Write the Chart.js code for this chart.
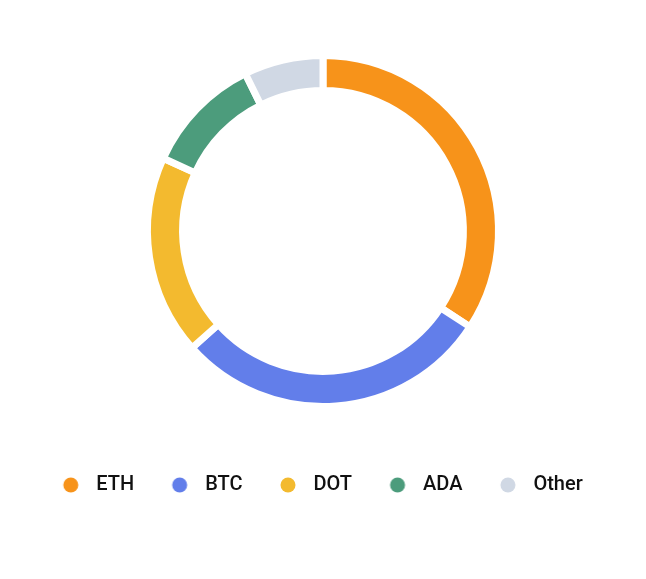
<!DOCTYPE html>
<html>
<head>
<meta charset="utf-8">
<script src="https://cdn.jsdelivr.net/npm/chart.js@4"></script>
<style>
  html, body { margin: 0; padding: 0; background: #fff; }
  #wrap { width: 646px; height: 579px; }
</style>
</head>
<body>
<div id="wrap"><canvas id="grafico" width="646" height="579"></canvas></div>
<script>
// Dados
const labels = ['ETH', 'BTC', 'DOT', 'ADA', 'Other'];
const valores = [34.2, 29.2, 18.4, 10.9, 7.3];
const cores = ['#F7931A', '#627EEA', '#F3BA2F', '#4C9C7C', '#D0D8E4'];

// Marcador redondo da legenda (deslocado para a esquerda dentro da caixa)
function criarBolinha(cor) {
    const c = document.createElement('canvas');
    c.width = 32;
    c.height = 16;
    const ctx = c.getContext('2d');
    ctx.fillStyle = cor;
    ctx.beginPath();
    ctx.arc(12, 8, 7.5, 0, Math.PI * 2);
    ctx.fill();
    return c;
}
const bolinhas = cores.map(criarBolinha);

const grafico = new Chart(document.getElementById('grafico'), {
    type: 'doughnut',
    data: {
        labels: labels,
        datasets: [{
            data: valores,
            backgroundColor: cores,
            borderColor: '#ffffff',
            borderWidth: 7
        }]
    },
    options: {
        responsive: false,
        animation: false,
        cutout: '80%',
        radius: 175.5,
        layout: { padding: { top: 25, bottom: 74 } },
        plugins: {
            tooltip: { enabled: false },
            legend: {
                position: 'bottom',
                labels: {
                    usePointStyle: true,
                    pointStyleWidth: 23,
                    padding: 38,
                    color: '#111111',
                    font: { family: 'Roboto', size: 20, weight: '500' },
                    generateLabels: (chart) => {
                        const base = Chart.overrides.doughnut.plugins.legend.labels.generateLabels(chart);
                        return base.map((item, i) => {
                            item.pointStyle = bolinhas[i];
                            item.lineWidth = 0;
                            return item;
                        });
                    }
                }
            }
        }
    }
});
</script>
</body>
</html>
